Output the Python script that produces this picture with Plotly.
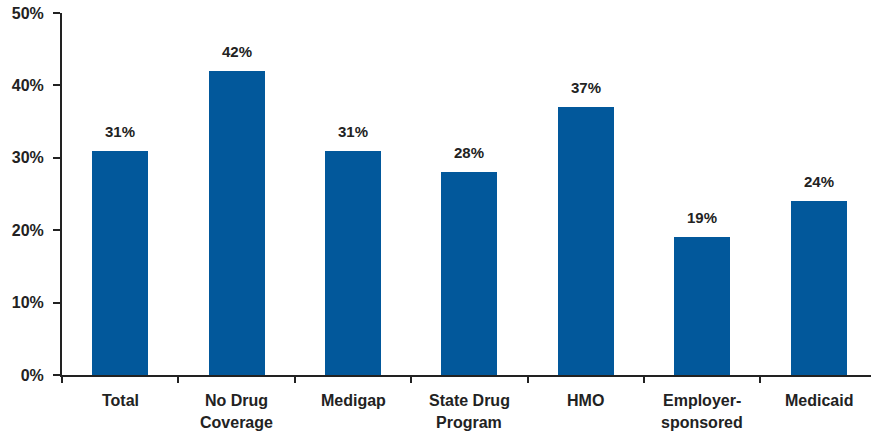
import plotly.graph_objects as go

categories = ["Total", "No Drug<br>Coverage", "Medigap", "State Drug<br>Program", "HMO", "Employer-<br>sponsored", "Medicaid"]
values = [31, 42, 31, 28, 37, 19, 24]
value_labels = ["31%", "42%", "31%", "28%", "37%", "19%", "24%"]
y_ticks = [0, 10, 20, 30, 40, 50]
y_tick_labels = ["0%", "10%", "20%", "30%", "40%", "50%"]

FONT = "Liberation Sans, Arial, sans-serif"
TXT = "#222222"
xs = list(range(len(categories)))

fig = go.Figure()
fig.add_trace(go.Bar(x=xs, y=values, width=0.48, marker=dict(color="#02589B", line=dict(width=0)),
                     hoverinfo="skip"))

annotations = []
for x, v, lab in zip(xs, values, value_labels):
    annotations.append(dict(x=x, y=v, xref="x", yref="y", text="<b>%s</b>" % lab, showarrow=False,
                            yanchor="bottom", yshift=9, font=dict(family=FONT, size=15, color=TXT)))
for x, c in zip(xs, categories):
    for k, line in enumerate(c.split("<br>")):
        annotations.append(dict(x=x, y=0, xref="x", yref="y", text="<b>%s</b>" % line, showarrow=False,
                                yanchor="top", yshift=-15 - 22 * k,
                                font=dict(family=FONT, size=16, color=TXT)))

fig.update_layout(
    width=871, height=434,
    margin=dict(l=62, r=0, t=13, b=59),
    paper_bgcolor="white", plot_bgcolor="white",
    showlegend=False, bargap=0,
    annotations=annotations,
    xaxis=dict(range=[-0.5, 6.45], tickmode="array", tickvals=[i - 0.5 for i in range(len(categories) + 1)],
               ticktext=[""] * (len(categories) + 1), ticks="outside", ticklen=6, tickwidth=2, tickcolor=TXT,
               showline=True, linewidth=2, linecolor=TXT, showgrid=False, zeroline=False, fixedrange=True),
    yaxis=dict(range=[0, 50], tickmode="array", tickvals=y_ticks, ticktext=y_tick_labels,
               ticks="outside", ticklen=7, tickwidth=2, tickcolor=TXT, ticklabelstandoff=6,
               showline=True, linewidth=2, linecolor=TXT, showgrid=False, zeroline=False,
               tickfont=dict(family=FONT, size=16, color=TXT, weight="bold"), fixedrange=True),
)
fig.write_html("out.html", config={"displayModeBar": False},
               post_script="document.body.style.margin='0';")
